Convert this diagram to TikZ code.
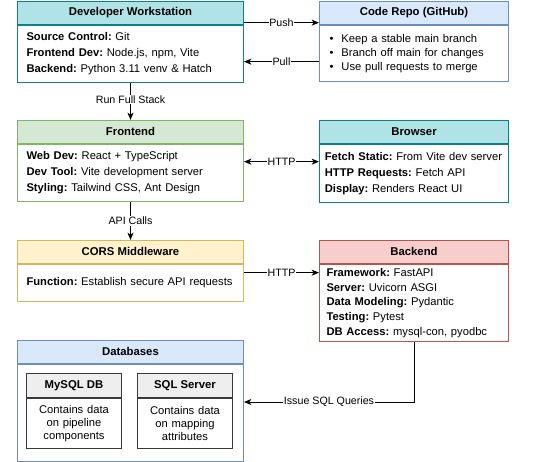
\documentclass[tikz,border=0pt]{standalone}
\usepackage{fontspec}
\setmainfont{Liberation Sans}
\usetikzlibrary{positioning,arrows.meta}
\definecolor{tealF}{HTML}{B0E3E6}
\definecolor{tealD}{HTML}{0E8088}
\definecolor{blueF}{HTML}{DAE8FC}
\definecolor{blueD}{HTML}{6C8EBF}
\definecolor{greenF}{HTML}{D5E8D4}
\definecolor{greenD}{HTML}{82B366}
\definecolor{yellowF}{HTML}{FFF2CC}
\definecolor{yellowD}{HTML}{D6B656}
\definecolor{redF}{HTML}{F8CECC}
\definecolor{redD}{HTML}{B85450}
\definecolor{grayF}{HTML}{EEEEEE}
\definecolor{grayD}{HTML}{36393D}
\tikzset{>={Stealth[length=5.5pt,width=4.5pt,inset=1.5pt]}}
\frenchspacing

\begin{document}
\begin{tikzpicture}[x=0.75pt,y=-0.75pt,
  box/.style={draw,line width=0.75pt,inner sep=0pt},
  head/.style={box,anchor=north west,minimum height=17pt,font=\fontsize{8.5}{10}\selectfont\bfseries},
  wide/.style={minimum width=169.5pt},
  narrow/.style={minimum width=141.75pt},
  body/.style={box,fill=white,anchor=north,inner xsep=6.75pt,text width=156pt,align=left,font=\fontsize{8.4}{12}\selectfont},
  bodyr/.style={body,inner xsep=4pt,text width=133.75pt},
  lbl/.style={fill=white,inner sep=0.5pt,font=\fontsize{8}{9}\selectfont},
  link/.style={line width=0.75pt,->}]

  \useasboundingbox (0,0) rectangle (553,461);

  % left column
  \node[head,wide,fill=tealF,draw=tealD] (dvh) at (17,1) {Developer Workstation};
  \node[body,draw=tealD,minimum height=43pt,below=0pt of dvh] (dvb)
    {\textbf{Source Control:} Git\\ \textbf{Frontend Dev:} Node.js, npm, Vite\\ \textbf{Backend:} Python 3.11 venv \& Hatch};

  \node[head,wide,fill=greenF,draw=greenD] (frh) at (17,120) {Frontend};
  \node[body,draw=greenD,minimum height=43pt,below=0pt of frh] (frb)
    {\textbf{Web Dev:} React + TypeScript\\ \textbf{Dev Tool:} Vite development server\\ \textbf{Styling:} Tailwind CSS, Ant Design};

  \node[head,wide,fill=yellowF,draw=yellowD] (coh) at (17,240) {CORS Middleware};
  \node[body,draw=yellowD,minimum height=28pt,below=0pt of coh] (cob)
    {\textbf{Function:} Establish secure API requests};

  \node[head,wide,fill=blueF,draw=blueD] (dbh) at (17,340) {Databases};
  \node[body,draw=blueD,minimum height=73pt,below=0pt of dbh] (dbb) {};

  % right column
  \node[head,narrow,fill=blueF,draw=blueD] (rph) at (319,1) {Code Repo (GitHub)};
  \node[bodyr,draw=blueD,minimum height=42.25pt,inner xsep=7.5pt,text width=126.75pt,
        font=\fontsize{8.4}{10.5}\selectfont,below=0pt of rph] (rpb)
    {\textbullet\hspace{6pt}Keep a stable main branch\\ \textbullet\hspace{6pt}Branch off main for changes\\ \textbullet\hspace{6pt}Use pull requests to merge};

  \node[head,narrow,fill=tealF,draw=tealD] (brh) at (319,120) {Browser};
  \node[bodyr,draw=tealD,minimum height=43.75pt,below=0pt of brh] (brb)
    {\textbf{Fetch Static:} From Vite dev server\\ \textbf{HTTP Requests:} Fetch API\\ \textbf{Display:} Renders React UI};

  \node[head,narrow,fill=redF,draw=redD] (beh) at (319,240) {Backend};
  \node[bodyr,draw=redD,minimum height=58pt,inner xsep=5.25pt,text width=131.25pt,
        font=\fontsize{8.4}{11}\selectfont,below=0pt of beh] (beb)
    {\textbf{Framework:} FastAPI\\ \textbf{Server:} Uvicorn ASGI\\ \textbf{Data Modeling:} Pydantic\\ \textbf{Testing:} Pytest\\ \textbf{DB Access:} mysql-con, pyodbc};

  % database servers
  \node[head,minimum width=71.25pt,minimum height=18pt,fill=grayF,draw=grayD] (myh) at (26,373) {MySQL DB};
  \node[body,draw=grayD,minimum height=37.5pt,inner xsep=3pt,text width=65.25pt,align=center,
        font=\fontsize{8.4}{10}\selectfont,below=0pt of myh] (myb)
    {Contains data\\ on pipeline\\ components};
  \node[head,minimum width=71.25pt,minimum height=18pt,fill=grayF,draw=grayD] (sqh) at (137,373) {SQL Server};
  \node[body,draw=grayD,minimum height=37.5pt,inner xsep=3pt,text width=65.25pt,align=center,
        font=\fontsize{8.4}{10}\selectfont,below=0pt of sqh] (sqb)
    {Contains data\\ on mapping\\ attributes};

  % connectors
  \draw[link] (dvb) -- (frh) node[lbl,pos=0.45] {Run Full Stack};
  \draw[link] (frb) -- (coh) node[lbl,midway] {API Calls};
  \draw[link] (dvh.south east) ++(0,-2) coordinate (pu) -- (pu -| rph.west) node[lbl,midway] {Push};
  \draw[link] (rpb.north west) ++(0,37) coordinate (pl) -- (pl -| dvb.east) node[lbl,midway] {Pull};
  \draw[link,<->] (frb.north east) ++(0,18) coordinate (h1) -- (h1 -| brb.west) node[lbl,midway] {HTTP};
  \draw[link] (cob.north east) ++(0,9) coordinate (h2) -- (h2 -| beb.west) node[lbl,midway] {HTTP};
  \draw[link] (beb.south) -- ++(0,60) coordinate (sq) -- (sq -| dbb.east) node[lbl,midway] {Issue SQL Queries};
\end{tikzpicture}
\end{document}
